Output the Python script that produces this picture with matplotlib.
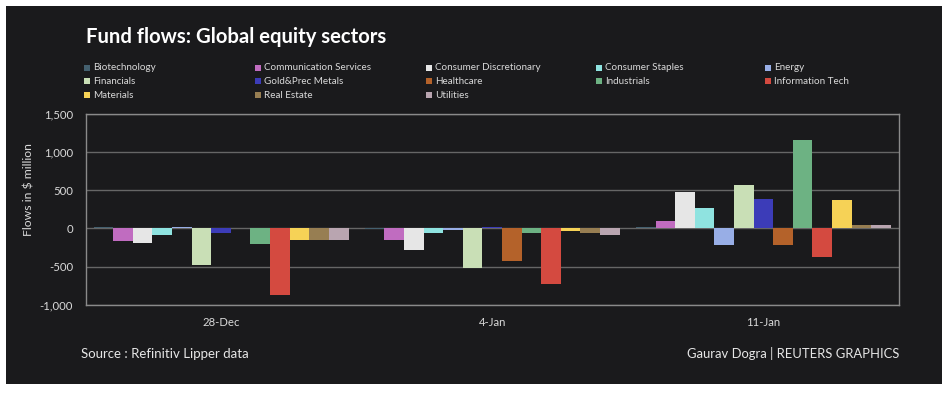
import matplotlib.pyplot as plt
from matplotlib.patches import Rectangle
import numpy as np

# Weekly fund flows ($ million) by sector
dates = ['28-Dec', '4-Jan', '11-Jan']
sectors = ['Biotechnology', 'Communication Services', 'Consumer Discretionary',
           'Consumer Staples', 'Energy', 'Financials', 'Gold&Prec Metals',
           'Healthcare', 'Industrials', 'Information Tech', 'Materials',
           'Real Estate', 'Utilities']
flows_28dec = [15, -165, -190, -80, 15, -480, -55, 8, -200, -870, -145, -148, -145]
flows_4jan = [-5, -153, -280, -66, -18, -512, 13, -425, -66, -724, -31, -57, -88]
flows_11jan = [18, 96, 474, 268, -215, 570, 386, -215, 1149, -373, 368, 39, 48]
colors = ['#44606f', '#c06cc0', '#e6e6e6', '#8fe3e0', '#98aee6', '#c9dfb6',
          '#3c3cb8', '#b4622a', '#6db283', '#d44a40', '#f6d256', '#977e52',
          '#b9a5b0']
yticks = [-1000, -500, 0, 500, 1000, 1500]

plt.rcParams['font.family'] = ['Lato', 'DejaVu Sans']

W, H = 950, 398
fig = plt.figure(figsize=(W / 100, H / 100), dpi=100, facecolor='white')

# dark panel behind everything
fig.patches.append(Rectangle((6 / W, 1 - 384 / H), 936 / W, 378 / H,
                             transform=fig.transFigure, facecolor='#1a1a1c',
                             edgecolor='none', zorder=-5))

ax = fig.add_axes([85.5 / W, 1 - 305 / H, (899 - 85.5) / W, (305 - 113.5) / H])
ax.set_facecolor('#1a1a1c')

data = np.array([flows_28dec, flows_4jan, flows_11jan])
x = np.arange(len(dates))
w = 0.0723
for i, s in enumerate(sectors):
    ax.bar(x + (i - 6) * w, data[:, i], width=w, color=colors[i], zorder=3)

ax.set_xlim(-0.5, 2.5)
ax.set_ylim(-1000, 1500)
ax.set_yticks(yticks)
ax.set_yticklabels(['{:,}'.format(v) for v in yticks])
ax.set_xticks(x)
ax.set_xticklabels(dates)
ax.tick_params(length=0, colors='#d9d9d9', labelsize=8.2)
ax.tick_params(axis='y', pad=9)
ax.tick_params(axis='x', pad=9)
ax.yaxis.grid(True, color='#666666', linewidth=1, zorder=1)
ax.set_axisbelow(True)
for sp in ax.spines.values():
    sp.set_color('#8a8a8a')
    sp.set_linewidth(1)

fig.text(29 / W, 1 - 190 / H, 'Flows in $ million', rotation=90, color='#d9d9d9',
         fontsize=8.8, ha='center', va='center')

fig.text(86 / W, 1 - 37 / H, 'Fund flows: Global equity sectors', color='white',
         fontsize=14.6, fontweight='bold', ha='left', va='center')

# legend laid out row by row, five columns
col_x = [84, 255, 426, 596, 765]
row_y = [68, 81, 95]
for i, s in enumerate(sectors):
    cx = col_x[i % 5]
    cy = row_y[i // 5]
    fig.patches.append(Rectangle((cx / W, 1 - (cy + 3) / H), 6 / W, 6 / H,
                                 transform=fig.transFigure, facecolor=colors[i],
                                 edgecolor='none'))
    fig.text((cx + 9) / W, 1 - cy / H, s, color='#d9d9d9', fontsize=7.1,
             ha='left', va='center')

fig.text(81 / W, 1 - 354 / H, 'Source : Refinitiv Lipper data', color='#e6e6e6',
         fontsize=9.5, ha='left', va='center')
fig.text(899 / W, 1 - 354 / H, 'Gaurav Dogra | REUTERS GRAPHICS', color='#e6e6e6',
         fontsize=9.4, ha='right', va='center')

fig.savefig('out.png', dpi=100, facecolor='white')
